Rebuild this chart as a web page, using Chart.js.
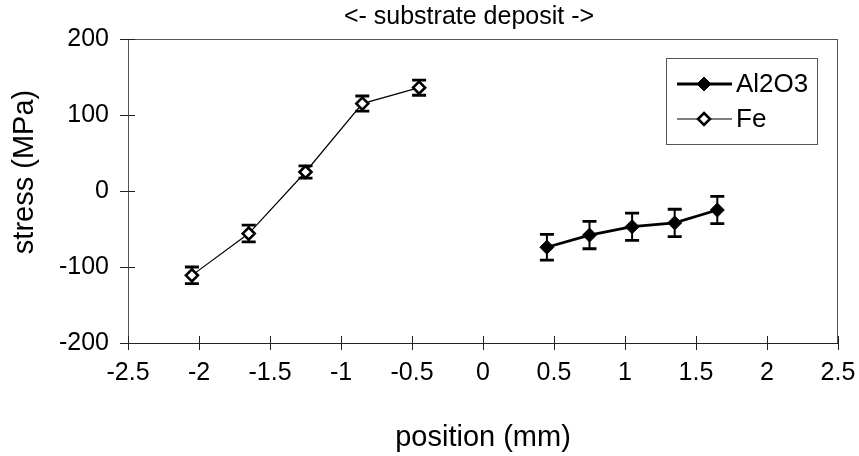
<!DOCTYPE html>
<html>
<head>
<meta charset="utf-8">
<script src="https://cdn.jsdelivr.net/npm/chart.js@4.4.1/dist/chart.umd.min.js"></script>
<style>
  html, body { margin: 0; padding: 0; background: #fff; }
  #wrap { width: 859px; height: 456px; }
</style>
</head>
<body>
<div id="wrap"><canvas id="stressChart" width="859" height="456"></canvas></div>
<script>
// residual stress across the interface, position in mm, stress in MPa
const aluX = [0.45, 0.75, 1.05, 1.35, 1.65];
const aluStress = [-74, -58, -47, -42, -25];
const aluErr = [17, 18, 18, 18, 18];

const feX = [-2.05, -1.65, -1.25, -0.85, -0.45];
const feStress = [-111, -56, 25, 115, 136];
const feErr = [11, 11, 8, 10, 10];

const xTickValues = [-2.5, -2, -1.5, -1, -0.5, 0, 0.5, 1, 1.5, 2, 2.5];
const yTickValues = [-200, -100, 0, 100, 200];

const FONT = "'Liberation Sans', Arial, sans-serif";
const INK = "#000";
const FRAME = "#555";

const toPoints = (xs, ys) => xs.map((x, i) => ({ x, y: ys[i] }));

// error bars go under the markers so the open diamonds stay hollow
const errorBars = {
  id: "errorBars",
  beforeDatasetsDraw(chart) {
    const { ctx, scales: { x, y } } = chart;
    ctx.save();
    ctx.strokeStyle = "#000";
    chart.data.datasets.forEach((ds) => {
      ds.data.forEach((p, i) => {
        const px = x.getPixelForValue(p.x);
        const top = y.getPixelForValue(p.y + ds.err[i]);
        const bot = y.getPixelForValue(p.y - ds.err[i]);
        ctx.lineWidth = 2;
        ctx.beginPath();
        ctx.moveTo(px, top);
        ctx.lineTo(px, bot);
        ctx.stroke();
        ctx.lineWidth = 2.8;
        ctx.beginPath();
        ctx.moveTo(px - 7, top);
        ctx.lineTo(px + 7, top);
        ctx.moveTo(px - 7, bot);
        ctx.lineTo(px + 7, bot);
        ctx.stroke();
      });
    });
    ctx.restore();
  },
};

// plot frame, tick marks crossing the axes, titles and the boxed legend
const decorations = {
  id: "decorations",
  beforeDatasetsDraw(chart) {
    const { ctx, chartArea: a, scales: { x, y } } = chart;
    ctx.save();
    ctx.strokeStyle = FRAME;
    ctx.lineWidth = 1;
    ctx.beginPath();
    ctx.moveTo(a.left, a.top + 0.5);
    ctx.lineTo(a.right, a.top + 0.5);
    ctx.moveTo(a.right - 0.5, a.top);
    ctx.lineTo(a.right - 0.5, a.bottom);
    ctx.stroke();

    ctx.strokeStyle = "#222";
    ctx.beginPath();
    x.ticks.forEach((t) => {
      const px = Math.round(x.getPixelForValue(t.value)) + 0.5;
      ctx.moveTo(px, a.bottom - 7);
      ctx.lineTo(px, a.bottom + 7);
    });
    y.ticks.forEach((t) => {
      const py = Math.round(y.getPixelForValue(t.value)) + 0.5;
      ctx.moveTo(a.left - 8, py);
      ctx.lineTo(a.left + 7, py);
    });
    ctx.stroke();
    ctx.restore();
  },
  afterDraw(chart) {
    const { ctx, chartArea: a } = chart;
    ctx.save();
    ctx.fillStyle = INK;
    ctx.textAlign = "center";
    ctx.textBaseline = "middle";

    ctx.font = `25px ${FONT}`;
    ctx.fillText("<- substrate deposit ->", 469, 17);

    ctx.font = `29px ${FONT}`;
    ctx.fillText("position (mm)", (a.left + a.right) / 2, 438);

    ctx.save();
    ctx.translate(25, 172);
    ctx.rotate(-Math.PI / 2);
    ctx.fillText("stress (MPa)", 0, 0);
    ctx.restore();

    // legend box
    const bx = a.right - 172, by = a.top + 19;
    ctx.strokeStyle = FRAME;
    ctx.lineWidth = 1;
    ctx.strokeRect(bx + 0.5, by + 0.5, 151, 86);

    ctx.font = `26px ${FONT}`;
    ctx.textAlign = "left";
    chart.data.datasets.forEach((ds, i) => {
      const ry = by + 26 + i * 35;
      ctx.strokeStyle = "#000";
      ctx.lineWidth = ds.borderWidth;
      ctx.beginPath();
      ctx.moveTo(bx + 11, ry);
      ctx.lineTo(bx + 66, ry);
      ctx.stroke();
      const r = ds.pointRadius, cx = bx + 38;
      ctx.fillStyle = ds.pointBackgroundColor;
      ctx.strokeStyle = ds.pointBorderColor;
      ctx.lineWidth = ds.pointBorderWidth;
      ctx.beginPath();
      ctx.moveTo(cx, ry - r);
      ctx.lineTo(cx + r, ry);
      ctx.lineTo(cx, ry + r);
      ctx.lineTo(cx - r, ry);
      ctx.closePath();
      ctx.fill();
      ctx.stroke();
      ctx.fillStyle = INK;
      ctx.fillText(ds.label, bx + 70, ry + 1);
    });
    ctx.restore();
  },
};

new Chart(document.getElementById("stressChart"), {
  type: "line",
  data: {
    datasets: [
      {
        label: "Al2O3",
        data: toPoints(aluX, aluStress),
        err: aluErr,
        borderColor: "#000",
        borderWidth: 2.8,
        pointStyle: "rectRot",
        pointRadius: 7,
        pointBackgroundColor: "#000",
        pointBorderColor: "#000",
        pointBorderWidth: 1,
        tension: 0,
      },
      {
        label: "Fe",
        data: toPoints(feX, feStress),
        err: feErr,
        borderColor: "#000",
        borderWidth: 1.2,
        pointStyle: "rectRot",
        pointRadius: 6,
        pointBackgroundColor: "#fff",
        pointBorderColor: "#000",
        pointBorderWidth: 2.6,
        tension: 0,
      },
    ],
  },
  options: {
    responsive: false,
    animation: false,
    layout: { padding: { top: 39, right: 21, left: 0, bottom: 0 } },
    plugins: {
      legend: { display: false },
      title: { display: false },
      tooltip: { enabled: false },
    },
    scales: {
      x: {
        type: "linear",
        min: -2.5,
        max: 2.5,
        afterBuildTicks: (s) => { s.ticks = xTickValues.map((v) => ({ value: v })); },
        afterFit: (s) => {
          s.height = 113;
          s.paddingLeft = 0;
          s.paddingRight = 0;
        },
        grid: { display: false, drawTicks: false },
        border: { display: true, color: "#222", width: 1 },
        ticks: {
          color: INK,
          font: { family: FONT, size: 25 },
          padding: 15,
          maxRotation: 0,
          callback: (v) => String(v),
        },
      },
      y: {
        type: "linear",
        min: -200,
        max: 200,
        afterBuildTicks: (s) => { s.ticks = yTickValues.map((v) => ({ value: v })); },
        afterFit: (s) => { s.width = 128; },
        grid: { display: false, drawTicks: false },
        border: { display: true, color: FRAME, width: 1 },
        ticks: {
          color: INK,
          font: { family: FONT, size: 25 },
          padding: 19,
          callback: (v) => String(v),
        },
      },
    },
  },
  plugins: [errorBars, decorations],
});
</script>
</body>
</html>
